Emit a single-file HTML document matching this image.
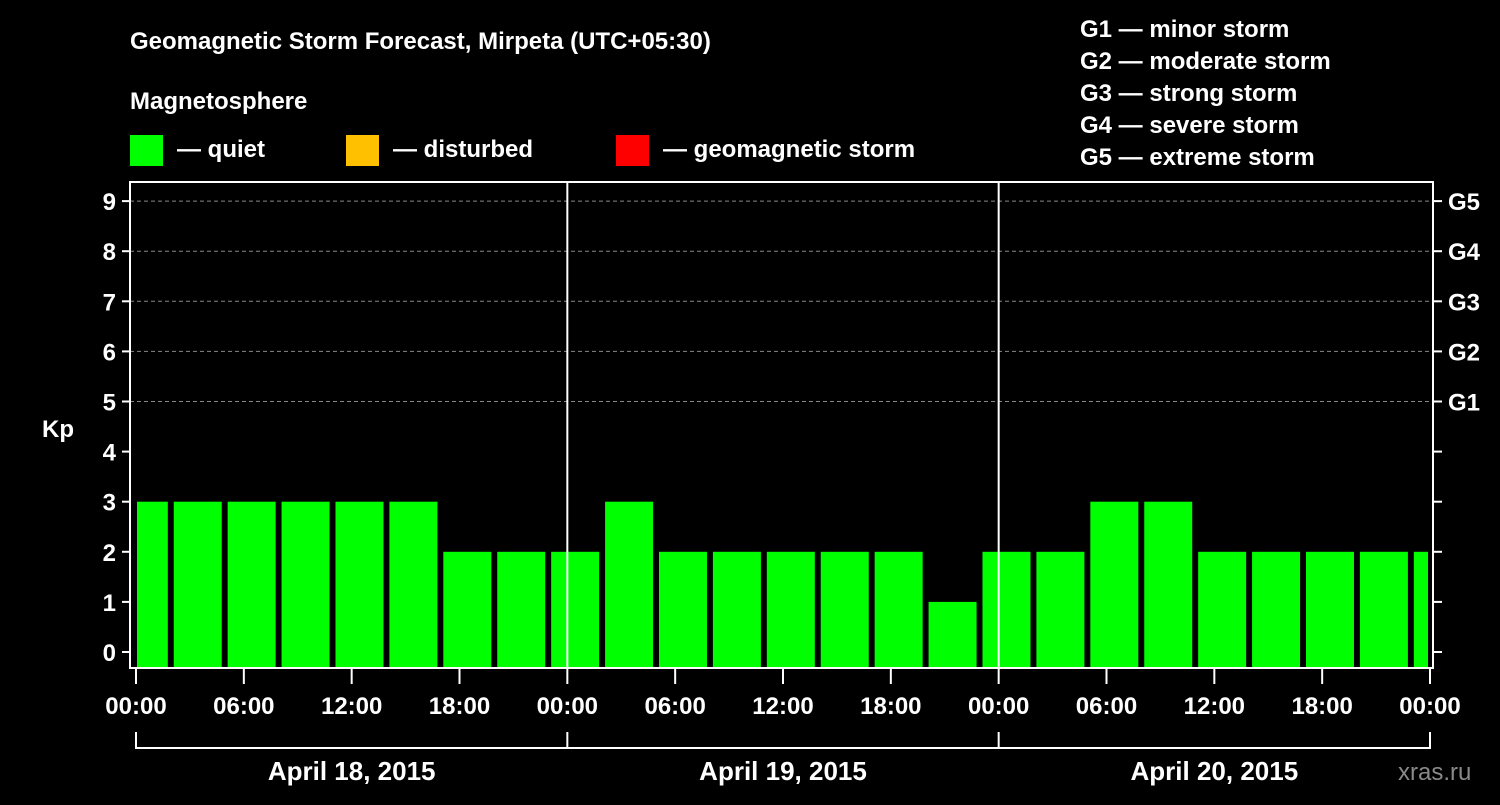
<!DOCTYPE html>
<html><head><meta charset="utf-8"><style>
body{margin:0;background:#000;width:1500px;height:800px;overflow:hidden}
svg text{font-family:"Liberation Sans",Arial,sans-serif;font-weight:bold;fill:#fff}
</style></head><body>
<svg id="c" width="1500" height="800" xmlns="http://www.w3.org/2000/svg">
<text x="130" y="49" font-size="24">Geomagnetic Storm Forecast, Mirpeta (UTC+05:30)</text>
<text x="130" y="109" font-size="24">Magnetosphere</text>
<g><rect x="130" y="135" width="33" height="31" fill="#00ff00"/><text x="177" y="157" font-size="24">— quiet</text></g>
<g><rect x="346" y="135" width="33" height="31" fill="#ffc000"/><text x="393" y="157" font-size="24">— disturbed</text></g>
<g><rect x="616" y="135" width="33" height="31" fill="#ff0000"/><text x="663" y="157" font-size="24">— geomagnetic storm</text></g>
<g font-size="24">
<text x="1080" y="37">G1 — minor storm</text><text x="1080" y="69">G2 — moderate storm</text><text x="1080" y="101">G3 — strong storm</text><text x="1080" y="133">G4 — severe storm</text><text x="1080" y="165">G5 — extreme storm</text>
</g>
<text x="42" y="437" font-size="24">Kp</text>
<text x="1398" y="780" font-size="24" fill="#888" style="fill:#8a8a8a;font-weight:normal">xras.ru</text>
<g id="grid"></g><g id="bars"></g><g id="axes"></g>
</svg>
<script>
const kpValues=[3,3,3,3,3,3,2,2,2,3,2,2,2,2,2,1,2,2,3,3,2,2,2,2,2];
const yTicks=[0,1,2,3,4,5,6,7,8,9];
const gLabels=["G1","G2","G3","G4","G5"];
const xTickLabels=["00:00","06:00","12:00","18:00","00:00","06:00","12:00","18:00","00:00","06:00","12:00","18:00","00:00"];
const dayLabels=["April 18, 2015","April 19, 2015","April 20, 2015"];
const NS="http://www.w3.org/2000/svg";
const L=130,R=1433,T=182,B=668,X0=136,X1=1430;
const x=h=>X0+(X1-X0)*h/72;
const y=v=>652-v*50.1;
function mk(t,a,p){const e=document.createElementNS(NS,t);for(const k in a)e.setAttribute(k,a[k]);p.appendChild(e);return e;}
const grid=document.getElementById('grid'),bars=document.getElementById('bars'),axes=document.getElementById('axes');
for(let v=5;v<=9;v++){const l=mk('line',{x1:L,x2:R,y1:y(v),y2:y(v),stroke:'#888','stroke-dasharray':'4,3','stroke-width':1},grid);

}
kpValues.forEach((v,k)=>{const h0=-0.9+3*k;let a=x(h0),b=x(h0+2.67);a=Math.max(a,X0+1);b=Math.min(b,X1-2);
const r=mk('rect',{x:a,y:y(v),width:b-a,height:B-y(v),fill:'#00ff00'},bars);

});
[1,2].forEach(d=>{const l=mk('line',{x1:x(24*d),x2:x(24*d),y1:T,y2:B,stroke:'#fff','stroke-width':2},axes);

});
const fr=mk('rect',{x:L,y:T,width:R-L,height:B-T,fill:'none',stroke:'#fff','stroke-width':2},axes);


yTicks.forEach(v=>{mk('line',{x1:L-8,x2:L,y1:y(v),y2:y(v),stroke:'#fff','stroke-width':2},axes);
mk('line',{x1:R,x2:R+9,y1:y(v),y2:y(v),stroke:'#fff','stroke-width':2},axes);
const t=mk('text',{x:L-14,y:y(v)+9,'font-size':24,'text-anchor':'end'},axes);t.textContent=v;

});
gLabels.forEach((g,i)=>{const t=mk('text',{x:1448,y:y(5+i)+9,'font-size':24},axes);t.textContent=g;

});
xTickLabels.forEach((s,i)=>{const xx=x(6*i);mk('line',{x1:xx,x2:xx,y1:B,y2:B+16,stroke:'#fff','stroke-width':2},axes);
const t=mk('text',{x:xx,y:714,'font-size':24,'text-anchor':'middle'},axes);t.textContent=s;

});
mk('line',{x1:x(0),x2:x(72),y1:748,y2:748,stroke:'#fff','stroke-width':2},axes);
for(let d=0;d<=3;d++)mk('line',{x1:x(24*d),x2:x(24*d),y1:732,y2:749,stroke:'#fff','stroke-width':2},axes);
dayLabels.forEach((s,i)=>{const t=mk('text',{x:x(24*i+12),y:780,'font-size':26,'text-anchor':'middle'},axes);t.textContent=s;

});
</script>
</body></html>
